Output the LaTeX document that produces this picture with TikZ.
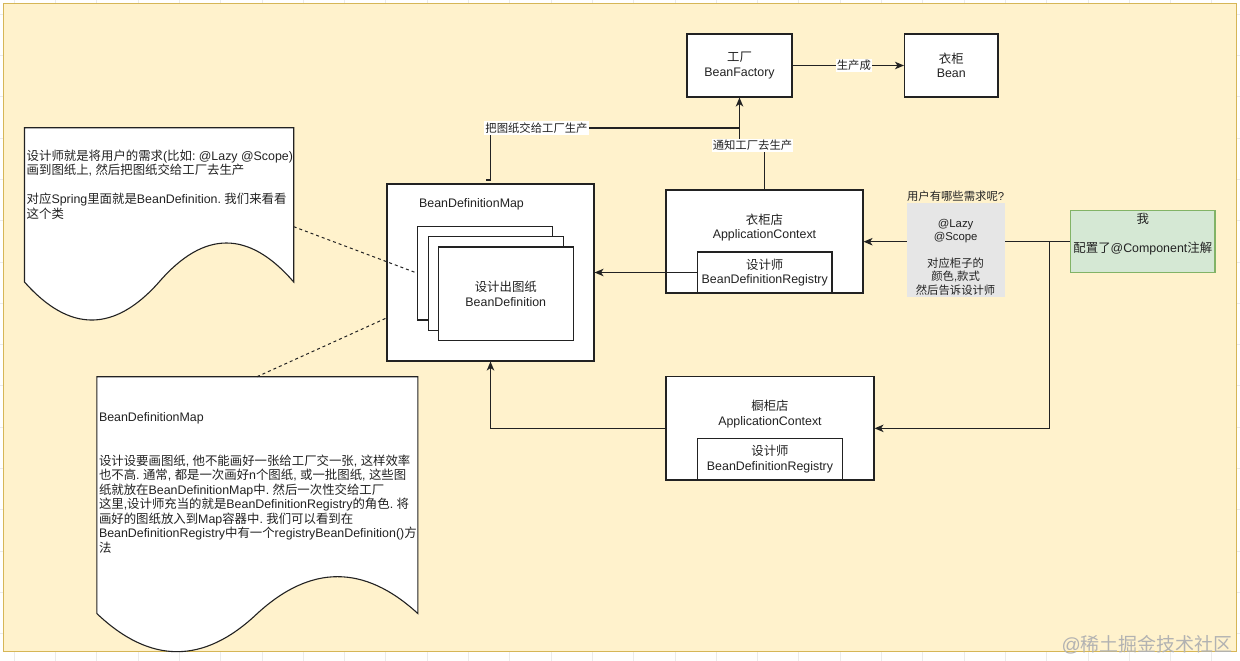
\documentclass[tikz,border=0pt]{standalone}
\usepackage{fontspec}
\setmainfont{Liberation Sans}
\newfontfamily\cjk{Noto Sans CJK SC}
\usetikzlibrary{arrows.meta,calc}
\frenchspacing
\XeTeXinterchartokenstate=1
\newXeTeXintercharclass\CJKcls
\makeatletter
\count@="4E00
\loop
  \XeTeXcharclass\count@=\CJKcls
  \ifnum\count@<"9FFF \advance\count@\@ne
\repeat
\makeatother
\XeTeXinterchartoks 0 \CJKcls = {\cjk}
\XeTeXinterchartoks \CJKcls 0 = {\rmfamily}
\XeTeXinterchartoks 4095 \CJKcls = {\cjk}
\XeTeXinterchartoks \CJKcls 4095 = {\rmfamily}
\definecolor{bgy}{HTML}{FFF2CC}
\definecolor{bgyb}{HTML}{D6B656}
\definecolor{gfill}{HTML}{D5E8D4}
\definecolor{gline}{HTML}{82B366}
\definecolor{lgray}{HTML}{E6E6E6}
\definecolor{ink}{HTML}{222222}
\tikzset{
  txt/.style={font=\fontsize{12.4}{14.5}\selectfont, inner sep=0pt, align=center, text=ink},
  ltxt/.style={font=\fontsize{11.35}{13.4}\selectfont, inner sep=0pt, align=center, text=ink},
  box/.style={draw=ink, line width=1.1pt, fill=white, inner sep=0pt, txt},
  conn/.style={draw=ink, line width=1.1pt},
  arr/.style={conn, -{Stealth[length=9pt,width=7.5pt,inset=2.5pt]}},
  dashline/.style={draw=ink, line width=1pt, dash pattern=on 3pt off 3pt},
  elabel/.style={ltxt, fill=white, inner xsep=1pt, inner ysep=1.5pt},
  notest/.style={draw=ink, line width=1.1pt, fill=white},
  gridl/.style={draw=black!8, line width=0.6pt},
}
\begin{document}
\begin{tikzpicture}[x=1pt,y=-1pt]
\useasboundingbox (0,0) rectangle (1240,661);
\fill[white] (0,0) rectangle (1240,661);
\foreach \i in {0,...,30} { \draw[gridl] ({14+41.3*\i},0) -- ({14+41.3*\i},661); }
\foreach \j in {0,...,16} { \draw[gridl] (0,{14+41.3*\j}) -- (1240,{14+41.3*\j}); }
\draw[fill=bgy, draw=bgyb, line width=0.8pt] (3.5,3.5) rectangle (1236.5,651.5);

% notes
\draw[notest] (24.5,127.7) -- (293.7,127.7) -- (293.7,282)
  .. controls (248.8,230) and (204.0,230) .. (159.1,282)
  .. controls (114.2,332.7) and (69.4,332.7) .. (24.5,282) -- cycle;
\node[txt, align=left, anchor=west] (n1t) at (26.5,184.4)
  {设计师就是将用户的需求(比如: @Lazy @Scope)\\画到图纸上, 然后把图纸交给工厂去生产\\\mbox{}\\对应Spring里面就是BeanDefinition. 我们来看看\\这个类};
\draw[notest] (96.8,376.7) -- (417.8,376.7) -- (417.8,613.5)
  .. controls (364.3,564.4) and (310.8,564.4) .. (257.3,613.5)
  .. controls (203.8,664.4) and (150.3,664.4) .. (96.8,613.5) -- cycle;
\node[txt, align=left, anchor=west] (n2t) at (98.8,482.9)
  {BeanDefinitionMap\\\mbox{}\\\mbox{}\\设计设要画图纸, 他不能画好一张给工厂交一张, 这样效率\\也不高. 通常, 都是一次画好n个图纸, 或一批图纸, 这些图\\纸就放在BeanDefinitionMap中. 然后一次性交给工厂\\这里,设计师充当的就是BeanDefinitionRegistry的角色. 将\\画好的图纸放入到Map容器中. 我们可以看到在\\BeanDefinitionRegistry中有一个registryBeanDefinition()方\\法};
\coordinate (n1c) at (293.7,226.7);
\coordinate (n2c) at (257,376.7);

% boxes
\node[box, minimum width=105pt, minimum height=63pt] (bf) at (739.5,65.5) {工厂\\BeanFactory};
\node[box, minimum width=93.5pt, minimum height=63pt] (bean) at (951.25,65.5) {衣柜\\Bean};
\node[box, minimum width=207pt, minimum height=177pt] (bdm) at (490.5,272.5) {};
\node[txt] (bdmt) at (471.5,204) {BeanDefinitionMap};
\draw[dashline] (n2c) -- ($(bdm.west)+(0,45.5)$);
\node[box, minimum width=135pt, minimum height=93.5pt] (s1) at (485.3,273.2) {};
\draw[dashline] (n1c) -- (s1.west);
\node[box, minimum width=135pt, minimum height=93.5pt] (s2) at (495.6,283.5) {};
\node[box, minimum width=135pt, minimum height=93.5pt] (s3) at (505.8,293.7) {设计出图纸\\BeanDefinition};

\node[box, minimum width=197pt, minimum height=103pt] (ac1) at (764.5,241.5) {};
\node[txt] (ac1t) at (764.5,227.5) {衣柜店\\ApplicationContext};
\node[box, minimum width=134.5pt, minimum height=41pt] (reg1) at (764.75,272.5) {设计师\\BeanDefinitionRegistry};

\node[box, minimum width=208pt, minimum height=103.3pt] (ac2) at (770,428.35) {};
\node[txt] (ac2t) at (770,414) {橱柜店\\ApplicationContext};
\node[box, minimum width=145pt, minimum height=41.7pt] (reg2) at (770,459.15) {设计师\\BeanDefinitionRegistry};

\node[box, draw=gline, fill=gfill, minimum width=144.4pt, minimum height=62pt] (me) at (1142.8,241.7) {};
\node[txt] (met) at (1142.8,234.5) {我\\\mbox{}\\配置了@Component注解};

% connectors
\draw[arr] (bf.east) -- node[elabel, pos=0.55] (lab1) {生产成} (bean.west);
\coordinate (hook) at (486,180);
\coordinate (jn) at (739.5,128);
\draw[conn] (hook) -- ++(4.5,0) |- (jn);
\draw[arr] (ac1.north) -- ++(0,-44.5) -| (bf.south);
\draw[arr] (reg1.west) -- (bdm.east |- reg1.west);
\draw[arr] (me.west) -- (me.west -| ac1.east);
\coordinate (br) at (1049.6,241.7);
\draw[arr] (br) |- (ac2.east);
\draw[arr] (ac2.west) -| (bdm.south);

\node[elabel] (lab2) at (536.5,128) {把图纸交给工厂生产};
\node[elabel] (lab3) at (752.5,145.5) {通知工厂去生产};

\node[fill=lgray, minimum width=98pt, minimum height=94pt, inner sep=0pt] (grayb) at (955.6,250) {};
\node[ltxt] (grayt) at (955.6,243) {用户有哪些需求呢?\\\mbox{}\\@Lazy\\@Scope\\\mbox{}\\对应柜子的\\颜色,款式\\然后告诉设计师};

\node[anchor=east, inner sep=0pt, font=\fontsize{19}{20}\selectfont, text=black!30] (wm) at (1233,645) {@稀土掘金技术社区};
\end{tikzpicture}
\end{document}
